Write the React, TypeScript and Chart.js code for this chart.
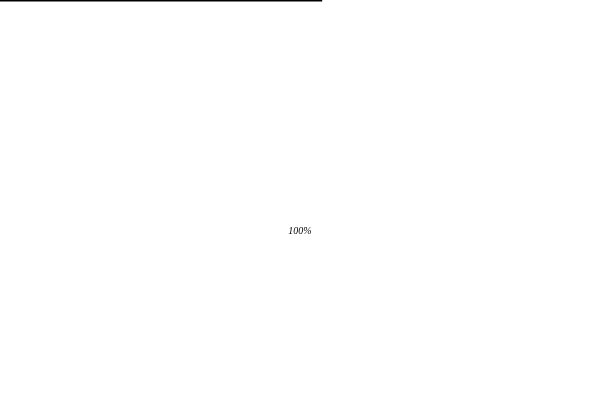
import { useEffect, useRef } from "react";
import { Chart, registerables, Plugin } from "chart.js";

Chart.register(...registerables);

// progress line along the top edge
const progressX = [0, 53.7];
const progressY = [100, 100];
const centerLabel = "100%";

const centerText: Plugin<"line"> = {
  id: "centerText",
  afterDraw(chart) {
    const ctx = chart.ctx;
    ctx.save();
    ctx.font = "italic 10px 'Liberation Serif'";
    ctx.fillStyle = "#000";
    ctx.textAlign = "center";
    ctx.textBaseline = "middle";
    ctx.fillText(centerLabel, chart.width / 2, 231);
    ctx.restore();
  },
};

const App = () => {
  const chartRef = useRef<HTMLCanvasElement | null>(null);

  useEffect(() => {
    document.body.style.margin = "0";
    if (!chartRef.current) return;
    const ctx = chartRef.current.getContext("2d");
    if (!ctx) return;

    const myChart = new Chart(ctx, {
      type: "line",
      data: {
        datasets: [
          {
            data: progressX.map((x, i) => ({ x, y: progressY[i] })),
            borderColor: "#000",
            borderWidth: 3,
            pointRadius: 0,
            clip: false,
          },
        ],
      },
      options: {
        animation: false,
        responsive: false,
        layout: { padding: 0 },
        plugins: {
          legend: { display: false },
          tooltip: { enabled: false },
        },
        scales: {
          x: { type: "linear", min: 0, max: 100, display: false },
          y: { type: "linear", min: 0, max: 100, display: false },
        },
      },
      plugins: [centerText],
    });

    return () => {
      myChart.destroy();
    };
  }, []);

  return (
    <div style={{ width: 600, height: 400 }}>
      <canvas ref={chartRef} width="600" height="400"></canvas>
    </div>
  );
};

export default App;
